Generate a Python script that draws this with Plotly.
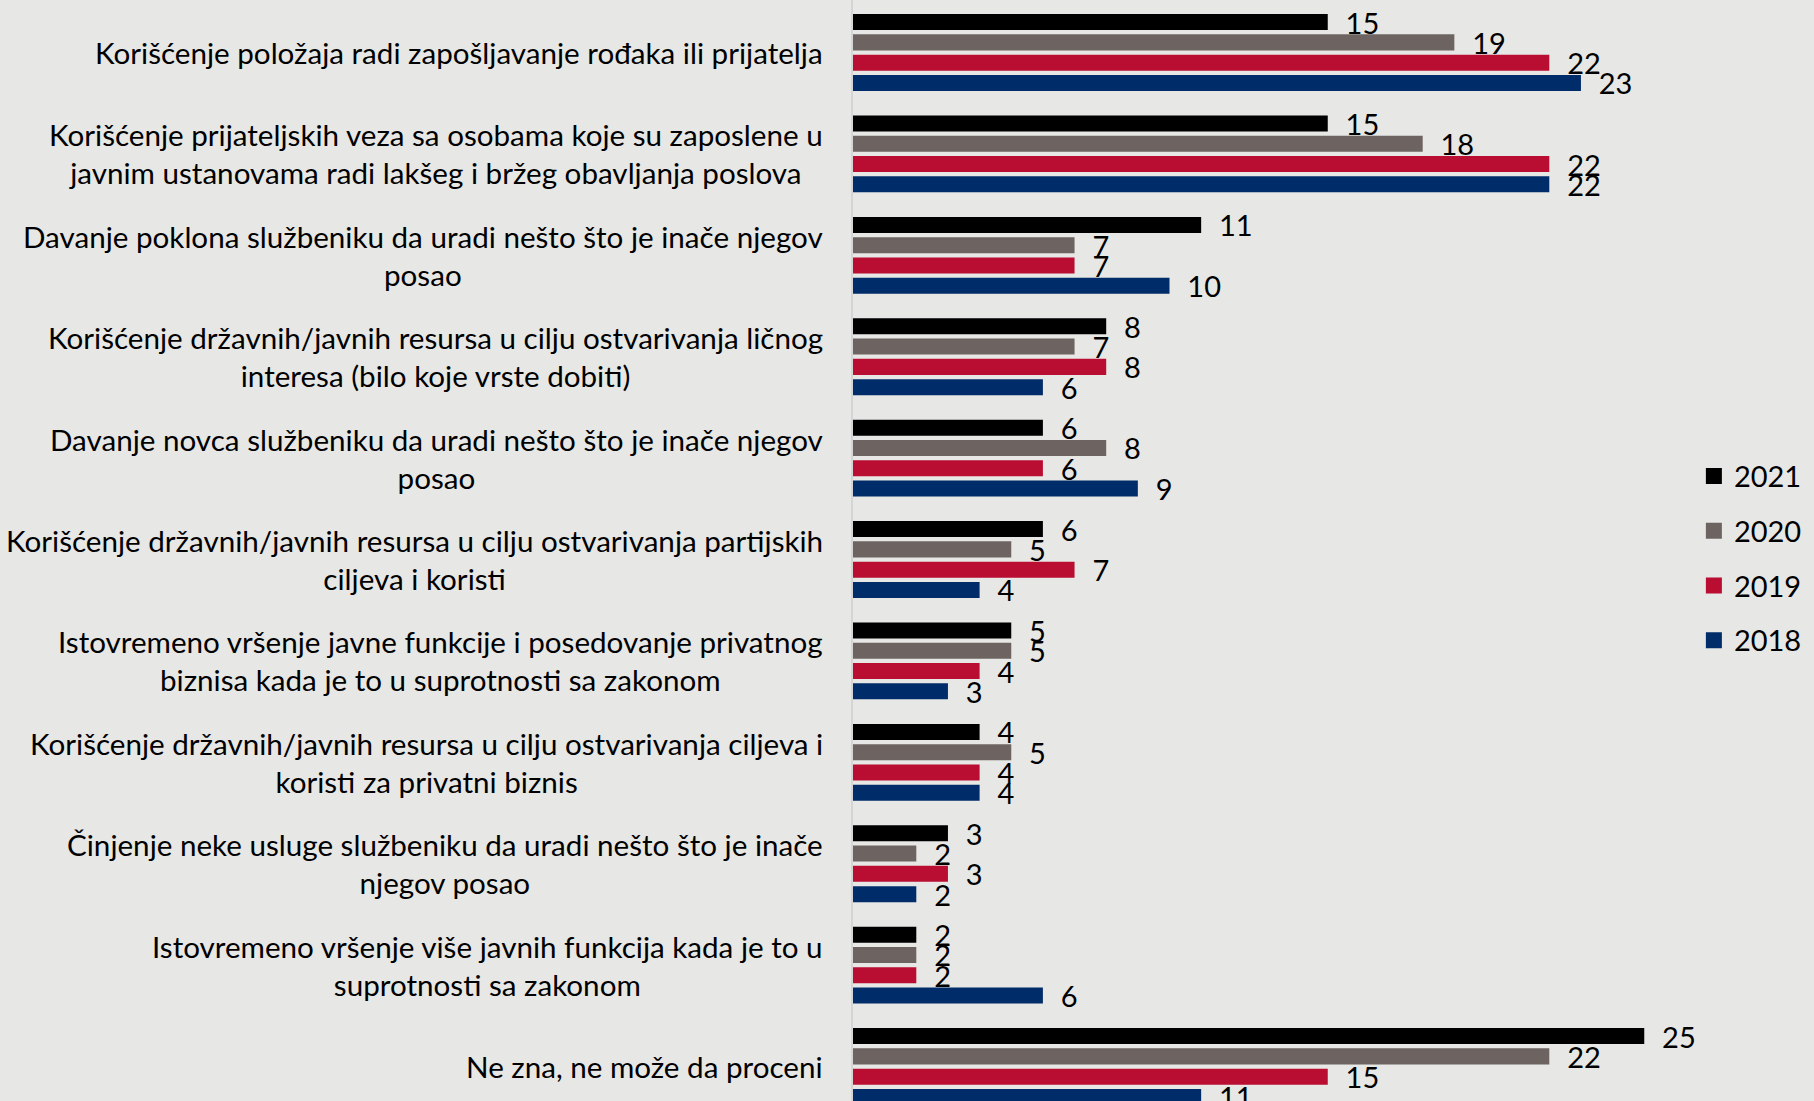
import plotly.graph_objects as go

categories = [
    "Korišćenje položaja radi zapošljavanje rođaka ili prijatelja",
    "Korišćenje prijateljskih veza sa osobama koje su zaposlene u<br>javnim ustanovama radi lakšeg i bržeg obavljanja poslova",
    "Davanje poklona službeniku da uradi nešto što je inače njegov<br>posao",
    "Korišćenje državnih/javnih resursa u cilju ostvarivanja ličnog<br>interesa (bilo koje vrste dobiti)",
    "Davanje novca službeniku da uradi nešto što je inače njegov<br>posao",
    "Korišćenje državnih/javnih resursa u cilju ostvarivanja partijskih<br>ciljeva i koristi",
    "Istovremeno vršenje javne funkcije i posedovanje privatnog<br>biznisa kada je to u suprotnosti sa zakonom",
    "Korišćenje državnih/javnih resursa u cilju ostvarivanja ciljeva i<br>koristi za privatni biznis",
    "Činjenje neke usluge službeniku da uradi nešto što je inače<br>njegov posao",
    "Istovremeno vršenje više javnih funkcija kada je to u<br>suprotnosti sa zakonom",
    "Ne zna, ne može da proceni",
]

years = ["2021", "2020", "2019", "2018"]
v2021 = [15, 15, 11, 8, 6, 6, 5, 4, 3, 2, 25]
v2020 = [19, 18, 7, 7, 8, 5, 5, 5, 2, 2, 22]
v2019 = [22, 22, 7, 8, 6, 7, 4, 4, 3, 2, 15]
v2018 = [23, 22, 10, 6, 9, 4, 3, 4, 2, 6, 11]
series = [v2021, v2020, v2019, v2018]
colors = ["#000000", "#6d6462", "#b90d31", "#002d69"]

FONT = "Lato"
FS = 29.6
BG = "#e7e7e5"
y_idx = list(range(len(categories)))

fig = go.Figure()
for name, vals, col in zip(years, series, colors):
    fig.add_trace(go.Bar(
        y=y_idx, x=vals, name=name, orientation="h",
        marker=dict(color=col, line=dict(width=0)),
        text=vals, texttemplate="\u00a0\u00a0%{x}", textposition="outside",
        constraintext="none", cliponaxis=True,
        textfont=dict(family=FONT, size=29, color="#000000"),
        showlegend=False,
    ))

# legend entries with larger square swatches
for name, col in zip(years, colors):
    fig.add_trace(go.Scatter(
        x=[None], y=[None], mode="markers", name=name, legendgroup=name,
        marker=dict(symbol="square", size=17, color=col, line=dict(width=0)),
        showlegend=True,
    ))

for i, cat in enumerate(categories):
    fig.add_annotation(
        x=0, xref="paper", y=i, yref="y", text=cat, showarrow=False,
        xanchor="right", yanchor="middle", align="center", xshift=-28,
        font=dict(family=FONT, size=FS, color="#000000"),
    )

fig.update_layout(
    width=1814, height=1101,
    margin=dict(l=853, r=0, t=0, b=0),
    paper_bgcolor=BG, plot_bgcolor=BG,
    barmode="group", bargap=0.2, bargroupgap=0.21,
    showlegend=True,
    legend=dict(x=0.875, xanchor="left", y=0.493, yanchor="middle",
                traceorder="grouped", tracegroupgap=14, itemwidth=30,
                font=dict(family=FONT, size=29, color="#000000"),
                bgcolor="rgba(0,0,0,0)"),
)
fig.update_xaxes(range=[0, 961 / 31.65], showgrid=False, zeroline=False,
                 showticklabels=False, showline=False)
fig.update_yaxes(range=[10.34, -0.518], showgrid=False, zeroline=False,
                 showticklabels=False, showline=True, linecolor="#d5d5d5",
                 linewidth=2, tickvals=y_idx)

fig.write_html("out.html", config={"displayModeBar": False},
               post_script="document.body.style.margin='0';document.body.style.overflow='hidden';")
